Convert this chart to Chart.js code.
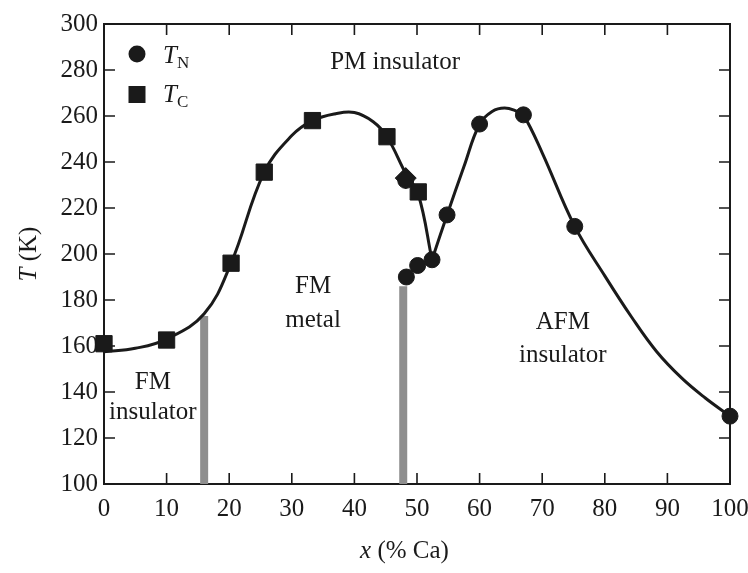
<!DOCTYPE html>
<html>
<head>
<meta charset="utf-8">
<script src="https://cdn.jsdelivr.net/npm/chart.js@4.4.1/dist/chart.umd.min.js"></script>
<style>
  html, body { margin: 0; padding: 0; background: #fff; }
  #wrap { width: 748px; height: 573px; }
</style>
</head>
<body>
<div id="wrap"><canvas id="chart"></canvas></div>
<script>
// tick values
const xTicks = [0, 10, 20, 30, 40, 50, 60, 70, 80, 90, 100];
const tTicks = [100, 120, 140, 160, 180, 200, 220, 240, 260, 280, 300];

// measured points (x in % Ca, T in K)
const tnX = [48.2, 48.3, 50.1, 52.4, 54.8, 60.0, 67.0, 75.2, 100];
const tnT = [232, 190, 195, 197.5, 217, 256.5, 260.5, 212, 129.5];
const tcX = [0, 10, 20.3, 25.6, 33.3, 45.2, 50.2];
const tcT = [161, 162.6, 196, 235.6, 258, 251, 227];
const dX = [48.2];
const dT = [233];

// guide curves
const fmCurveX = [0, 5, 10, 16, 20.3, 25.6, 30, 33.3, 37, 40, 43, 45.2, 48.2, 50.2, 52.4];
const fmCurveT = [157.5, 159, 163, 174, 196, 235.6, 251.5, 258, 261, 261.5, 257.5, 251, 235, 226, 197.5];
const afmCurveX = [52.4, 54.8, 57.5, 60, 62, 64, 66, 67, 70, 75.2, 80, 84.3, 88.3, 92.3, 96, 100];
const afmCurveT = [197.5, 217, 238, 256.5, 262, 263.5, 262, 260.5, 244, 212, 190.5, 172.5, 157.5, 146, 137.5, 129.5];

// grey phase boundaries
const barX = [16, 47.8];
const barTop = [173, 186];

const serif = "Liberation Serif";
const ink = "#1a1a1a";
Chart.defaults.font.family = serif;

const toPts = (xs, ys) => xs.map((x, i) => ({ x: x, y: ys[i] }));

const labels = [
  { text: "PM insulator", x: 46.5, y: 283.5 },
  { text: "FM", x: 33.4, y: 185.7 },
  { text: "metal", x: 33.4, y: 171.3 },
  { text: "FM", x: 7.8, y: 144.3 },
  { text: "insulator", x: 7.8, y: 130.9 },
  { text: "AFM", x: 73.3, y: 170.4 },
  { text: "insulator", x: 73.3, y: 156 },
];

const frame = {
  id: "frame",
  beforeDatasetsDraw(chart) {
    const { ctx, chartArea: a, scales } = chart;
    ctx.save();
    ctx.strokeStyle = ink;
    ctx.lineWidth = 2;
    ctx.strokeRect(a.left, a.top, a.right - a.left, a.bottom - a.top);
    ctx.lineWidth = 1.6;
    ctx.beginPath();
    xTicks.forEach(v => {
      const px = scales.x.getPixelForValue(v);
      ctx.moveTo(px, a.bottom); ctx.lineTo(px, a.bottom - 11);
      ctx.moveTo(px, a.top); ctx.lineTo(px, a.top + 11);
    });
    tTicks.forEach(v => {
      const py = scales.y.getPixelForValue(v);
      ctx.moveTo(a.left, py); ctx.lineTo(a.left + 11, py);
      ctx.moveTo(a.right, py); ctx.lineTo(a.right - 11, py);
    });
    ctx.stroke();
    ctx.restore();
  },
  afterDatasetsDraw(chart) {
    const { ctx, chartArea: a, scales } = chart;
    ctx.save();
    ctx.fillStyle = ink;
    ctx.font = `25px ${serif}`;
    ctx.textAlign = "center";
    ctx.textBaseline = "middle";
    labels.forEach(l => {
      ctx.fillText(l.text, scales.x.getPixelForValue(l.x), scales.y.getPixelForValue(l.y));
    });

    // legend
    const lx = a.left + 33;
    ctx.beginPath();
    ctx.arc(lx, a.top + 30, 8.5, 0, Math.PI * 2);
    ctx.fill();
    ctx.fillRect(lx - 8.5, a.top + 62, 17, 17);
    ctx.textAlign = "left";
    ctx.textBaseline = "alphabetic";
    ctx.font = `italic 25px ${serif}`;
    ctx.fillText("T", lx + 26, a.top + 39);
    ctx.fillText("T", lx + 26, a.top + 78);
    ctx.font = `17px ${serif}`;
    ctx.fillText("N", lx + 40, a.top + 44);
    ctx.fillText("C", lx + 40, a.top + 83);

    // axis titles
    const xt = "x", xr = " (% Ca)";
    ctx.font = `italic 25px ${serif}`;
    const w1 = ctx.measureText(xt).width;
    ctx.font = `25px ${serif}`;
    const w2 = ctx.measureText(xr).width;
    const cx = scales.x.getPixelForValue(48);
    let sx = cx - (w1 + w2) / 2;
    ctx.font = `italic 25px ${serif}`;
    ctx.fillText(xt, sx, 558);
    ctx.font = `25px ${serif}`;
    ctx.fillText(xr, sx + w1, 558);

    ctx.translate(36, (a.top + a.bottom) / 2);
    ctx.rotate(-Math.PI / 2);
    const yt = "T", yr = " (K)";
    ctx.font = `italic 25px ${serif}`;
    const v1 = ctx.measureText(yt).width;
    ctx.font = `25px ${serif}`;
    const v2 = ctx.measureText(yr).width;
    sx = -(v1 + v2) / 2;
    ctx.font = `italic 25px ${serif}`;
    ctx.fillText(yt, sx, 0);
    ctx.font = `25px ${serif}`;
    ctx.fillText(yr, sx + v1, 0);
    ctx.restore();
  },
};

const barSets = barX.map((x, i) => ({
  type: "line",
  data: [{ x: x, y: 100 }, { x: x, y: barTop[i] }],
  borderColor: "#8e8e8e",
  borderWidth: 8,
  pointRadius: 0,
  order: 5,
}));

const curveSet = (xs, ys) => ({
  type: "line",
  data: toPts(xs, ys),
  borderColor: ink,
  borderWidth: 3,
  pointRadius: 0,
  tension: 0.4,
  order: 4,
});

new Chart(document.getElementById("chart"), {
  type: "scatter",
  data: {
    datasets: [
      ...barSets,
      curveSet(fmCurveX, fmCurveT),
      curveSet(afmCurveX, afmCurveT),
      {
        label: "TN",
        data: toPts(tnX, tnT),
        pointStyle: "circle",
        pointRadius: 8,
        backgroundColor: ink,
        borderColor: ink,
        clip: false,
        order: 1,
      },
      {
        label: "TC",
        data: toPts(tcX, tcT),
        pointStyle: "rect",
        pointRadius: 11.5,
        backgroundColor: ink,
        borderColor: ink,
        clip: false,
        order: 1,
      },
      {
        label: "",
        data: toPts(dX, dT),
        pointStyle: "rectRot",
        pointRadius: 10.5,
        backgroundColor: ink,
        borderColor: ink,
        clip: false,
        order: 1,
      },
    ],
  },
  options: {
    responsive: true,
    maintainAspectRatio: false,
    animation: false,
    events: [],
    layout: { padding: { top: 24, right: 18, left: 0, bottom: 0 } },
    plugins: { legend: { display: false }, tooltip: { enabled: false } },
    scales: {
      x: {
        type: "linear",
        min: 0,
        max: 100,
        afterFit: s => { s.height = 89; s.paddingLeft = 0; s.paddingRight = 0; },
        afterBuildTicks: s => { s.ticks = xTicks.map(v => ({ value: v })); },
        grid: { display: false, drawTicks: false },
        border: { display: false },
        ticks: { padding: 10, color: ink, font: { family: serif, size: 25 } },
      },
      y: {
        type: "linear",
        min: 100,
        max: 300,
        afterFit: s => { s.width = 104; s.paddingTop = 0; s.paddingBottom = 0; },
        afterBuildTicks: s => { s.ticks = tTicks.map(v => ({ value: v })); },
        grid: { display: false, drawTicks: false },
        border: { display: false },
        ticks: { padding: 6, color: ink, font: { family: serif, size: 25 } },
      },
    },
  },
  plugins: [frame],
});
</script>
</body>
</html>
